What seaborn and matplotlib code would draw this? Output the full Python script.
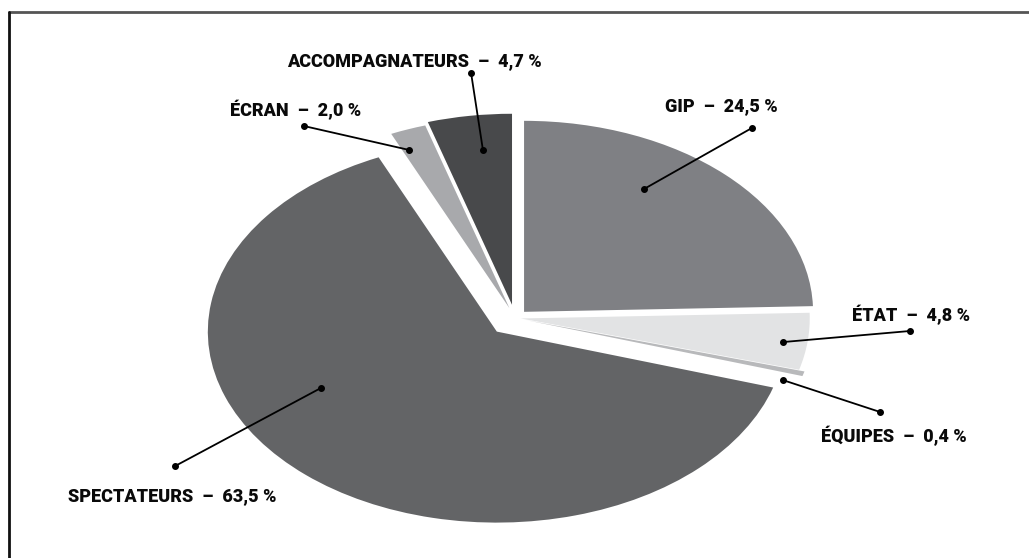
import matplotlib
matplotlib.use("Agg")
import matplotlib.pyplot as plt
from matplotlib.lines import Line2D
import seaborn as sns

# ---- data ----
categories = ["GIP", "ÉTAT", "ÉQUIPES", "SPECTATEURS", "ÉCRAN", "ACCOMPAGNATEURS"]
values = [24.5, 4.8, 0.4, 63.5, 2.0, 4.7]
value_labels = ["24,5 %", "4,8 %", "0,4 %", "63,5 %", "2,0 %", "4,7 %"]

# ---- style ----
colors = ["#7f8084", "#e2e3e4", "#b8b9bb", "#636466", "#a8a9ac", "#48494b"]
explode = [0.045, 0.02, 0.04, 0.095, 0.055, 0.07]

# label layout (unit-ellipse coordinates): text centre, outer dot, inner dot
text_pos = [(0.713, 1.110), (1.370, 0.016), (1.311, -0.618),
            (-1.187, -0.932), (-0.758, 1.089), (-0.349, 1.346)]
outer_dot = [(0.820, 0.995), (1.367, -0.068), (1.263, -0.492),
             (-1.176, -0.775), (-0.730, 1.005), (-0.152, 1.283)]
inner_dot = [(0.446, 0.675), (0.927, -0.126), (0.927, -0.325),
             (-0.671, -0.366), (-0.367, 0.880), (-0.111, 0.880)]

sns.set_theme(style="white")
plt.rcParams["font.family"] = ["Roboto", "DejaVu Sans"]

W, H = 1029, 558
cx, cy, rx, ry = 515, 318, 289, 191
fig = plt.figure(figsize=(W / 100, H / 100), dpi=100)
fig.patch.set_facecolor("white")
ax = fig.add_axes([0, 0, 1, 1])

palette = sns.color_palette(colors)
ax.pie(values, colors=palette, explode=explode, startangle=90,
       counterclock=False, radius=1.0,
       wedgeprops=dict(linewidth=0, edgecolor="none"))
ax.set_aspect("auto")
ax.set_xlim((0 - cx) / rx, (W - cx) / rx)
ax.set_ylim((cy - H) / ry, (cy - 0) / ry)
ax.axis("off")

for cat, lab, tp, od, idt in zip(categories, value_labels, text_pos, outer_dot, inner_dot):
    ax.plot([od[0], idt[0]], [od[1], idt[1]], color="black", lw=1.3,
            marker="o", markersize=4, solid_capstyle="round")
    ax.text(tp[0], tp[1], f"{cat}  –  {lab}", ha="center", va="center",
            fontsize=13, fontweight="black", color="#0a0a0a")

# frame lines (top and left)
fig.add_artist(Line2D([9 / W, 1.0], [1 - 12 / H, 1 - 12 / H], transform=fig.transFigure,
                      color="#555555", lw=2))
fig.add_artist(Line2D([9 / W, 9 / W], [0.0, 1 - 12 / H], transform=fig.transFigure,
                      color="#111111", lw=2))

fig.savefig("out.png", dpi=100, facecolor="white")
